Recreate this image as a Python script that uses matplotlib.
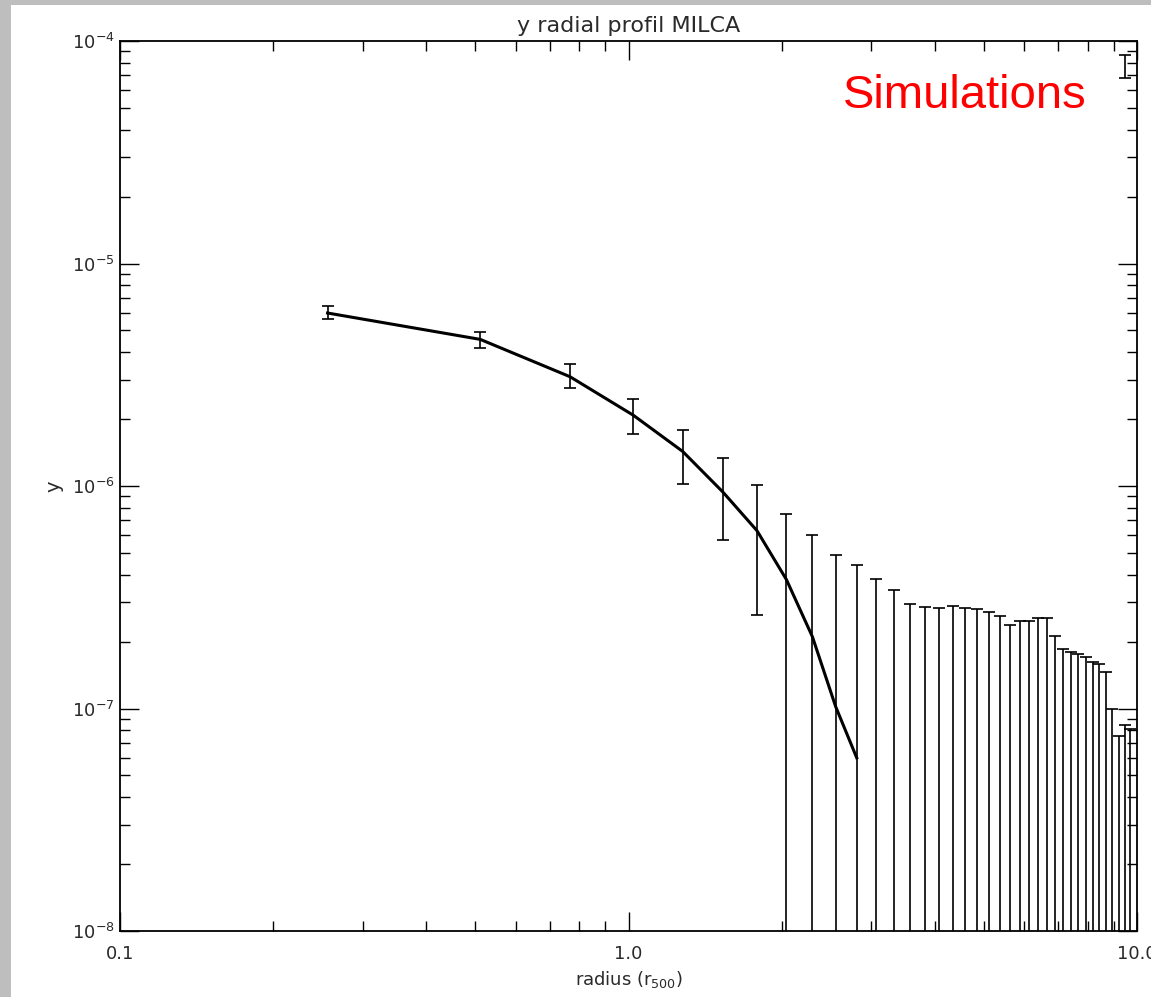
import numpy as np
import matplotlib
matplotlib.use("Agg")
import matplotlib.pyplot as plt
from matplotlib.patches import Rectangle
from matplotlib.ticker import LogLocator, NullFormatter, FixedLocator, FixedFormatter, LogFormatterMathtext

# Radial bins (in units of r500)
radius = [0.256, 0.511, 0.767, 1.022, 1.278, 1.533, 1.789, 2.044, 2.300, 2.555,
          2.811, 3.066, 3.322, 3.577, 3.833, 4.088, 4.344, 4.599, 4.855, 5.110,
          5.366, 5.621, 5.877, 6.132, 6.388, 6.643, 6.899, 7.154, 7.410, 7.665,
          7.921, 8.176, 8.432, 8.687, 8.943, 9.198, 9.454, 9.709]

# Mean y profile (positive part, first bins only)
y_profile = [5.99e-6, 4.56e-6, 3.10e-6, 2.08e-6, 1.43e-6, 9.4e-7, 6.3e-7,
             3.8e-7, 2.1e-7, 1.02e-7, 6.0e-8]

# Upper and lower ends of the error bars (0 = below the plotted range)
y_upper = [6.44e-6, 4.91e-6, 3.53e-6, 2.47e-6, 1.79e-6, 1.34e-6, 1.01e-6,
           7.5e-7, 6.0e-7, 4.9e-7, 4.4e-7, 3.8e-7, 3.4e-7, 2.94e-7, 2.87e-7,
           2.83e-7, 2.89e-7, 2.82e-7, 2.79e-7, 2.71e-7, 2.60e-7, 2.38e-7,
           2.48e-7, 2.48e-7, 2.54e-7, 2.54e-7, 2.11e-7, 1.85e-7, 1.80e-7,
           1.76e-7, 1.71e-7, 1.62e-7, 1.58e-7, 1.46e-7, 9.9e-8, 7.5e-8,
           8.4e-8, 8.1e-8]
y_lower = [5.63e-6, 4.16e-6, 2.75e-6, 1.72e-6, 1.02e-6, 5.7e-7, 2.64e-7] + [0.0] * 31

# Isolated bar near the outer edge
edge_radius = [9.45]
edge_low = [6.8e-5]
edge_high = [8.65e-5]

x_ticks = [0.1, 1.0, 10.0]
x_ticklabels = ["0.1", "1.0", "10.0"]
y_ticks = [1e-8, 1e-7, 1e-6, 1e-5, 1e-4]

W, H = 1151, 997
fig = plt.figure(figsize=(W / 100, H / 100), dpi=100)
fig.patch.set_facecolor("#bebebe")
fig.add_artist(Rectangle((11 / W, 0), 1 - 11 / W, 1 - 5 / H,
                         transform=fig.transFigure, facecolor="white",
                         edgecolor="none", zorder=-5))

left, right = 120 / W, 1137 / W
top, bottom = 1 - 41 / H, 1 - 931 / H
ax = fig.add_axes([left, bottom, right - left, top - bottom])
ax.set_xscale("log")
ax.set_yscale("log")
ax.set_xlim(0.1, 10.0)
ax.set_ylim(1e-8, 1e-4)

ymin = ax.get_ylim()[0]
r = np.array(radius)
up = np.array(y_upper)
lo = np.array(y_lower)
lo_draw = np.where(lo > 0, lo, ymin * 0.5)

ink = "black"
ax.vlines(r, lo_draw, up, color=ink, lw=1.2, zorder=2)
ax.plot(r, up, ls="none", marker="_", ms=9, mew=1.2, color=ink, zorder=2)
vis = lo > ymin
ax.plot(r[vis], lo[vis], ls="none", marker="_", ms=9, mew=1.2, color=ink, zorder=2)

ax.vlines(edge_radius, edge_low, edge_high, color=ink, lw=1.2, zorder=2)
ax.plot(edge_radius + edge_radius, edge_low + edge_high, ls="none",
        marker="_", ms=9, mew=1.2, color=ink, zorder=2)

ax.plot(r[:len(y_profile)], y_profile, color=ink, lw=2.2, zorder=3)

# axes styling
for s in ax.spines.values():
    s.set_linewidth(1.3)
    s.set_color("black")

ax.xaxis.set_major_locator(FixedLocator(x_ticks))
ax.xaxis.set_major_formatter(FixedFormatter(x_ticklabels))
ax.xaxis.set_minor_locator(LogLocator(base=10, subs=np.arange(2, 10)))
ax.xaxis.set_minor_formatter(NullFormatter())
ax.yaxis.set_major_locator(FixedLocator(y_ticks))
ax.yaxis.set_major_formatter(LogFormatterMathtext())
ax.yaxis.set_minor_locator(LogLocator(base=10, subs=np.arange(2, 10)))
ax.yaxis.set_minor_formatter(NullFormatter())

label_color = "#2a2a2a"
ax.tick_params(which="both", direction="in", top=True, right=True,
               width=1.0, color="black", labelcolor=label_color, labelsize=13)
ax.tick_params(which="major", length=14)
ax.tick_params(which="minor", length=7)
ax.tick_params(axis="x", which="major", pad=10)
ax.tick_params(axis="y", which="major", pad=4)

ax.set_title("y radial profil MILCA", fontsize=16, color=label_color, pad=6.5)
plt.rcParams["mathtext.default"] = "regular"
ax.set_xlabel(r"radius (r$_{500}$)", fontsize=13, color=label_color, va="top")
ax.xaxis.set_label_coords(0.5, -0.0425)
ax.set_ylabel("y", fontsize=14, color=label_color)
ax.yaxis.set_label_coords(-0.056, 0.5)

fig.text(1087 / W, 1 - 108.5 / H, "Simulations", color="#ff0000",
         fontsize=34, family="Liberation Sans", ha="right", va="baseline")

fig.savefig("out.png", dpi=100)
